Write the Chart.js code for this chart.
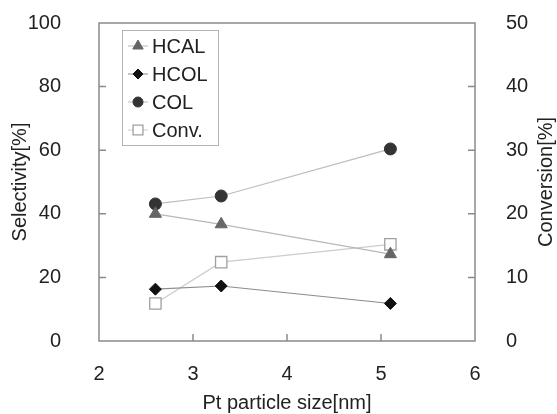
<!DOCTYPE html>
<html>
<head>
<meta charset="utf-8">
<script src="https://cdn.jsdelivr.net/npm/chart.js@4/dist/chart.umd.min.js"></script>
<style>
  html, body { margin: 0; padding: 0; background: #fff; }
  #wrap { width: 557px; height: 414px; }
</style>
</head>
<body>
<div id="wrap"><canvas id="chart" width="557" height="414"></canvas></div>
<script>
// données
const sizes = [2.6, 3.3, 5.1];           // Pt particle size [nm]
const hcal = [40.0, 36.7, 27.3];         // Selectivity [%]
const hcol = [16.3, 17.3, 11.8];
const col = [43.1, 45.6, 60.4];
const conv = [5.9, 12.4, 15.2];          // Conversion [%] (axe droit)
const labels = ["HCAL", "HCOL", "COL", "Conv."];
const selTicks = [0, 20, 40, 60, 80, 100];
const convTicks = [0, 10, 20, 30, 40, 50];
const xTicks = [2, 3, 4, 5, 6];

const FONT = "'Liberation Sans', Arial, sans-serif";

function pts(ys) {
    return sizes.map((x, i) => ({ x: x, y: ys[i] }));
}

// taille fixe des axes, sans marge automatique
function fixSize(w, h) {
    return s => {
        if (w) s.width = w;
        if (h) s.height = h;
        s.paddingTop = 0; s.paddingBottom = 0;
        s.paddingLeft = 0; s.paddingRight = 0;
    };
}

// cadre, petites graduations internes, titres et légende
const decor = {
    id: "decor",
    afterDraw(chart) {
        const ctx = chart.ctx;
        const a = chart.chartArea;
        const sx = chart.scales.x, sy = chart.scales.y, sy1 = chart.scales.y1;
        ctx.save();
        ctx.strokeStyle = "#8a8a8a";
        ctx.lineWidth = 1.5;
        ctx.strokeRect(a.left, a.top, a.right - a.left, a.bottom - a.top);

        ctx.beginPath();
        const tl = 7;
        xTicks.slice(1, -1).forEach(v => {
            const p = sx.getPixelForValue(v);
            ctx.moveTo(p, a.bottom); ctx.lineTo(p, a.bottom - tl);
        });
        selTicks.slice(1, -1).forEach(v => {
            const p = sy.getPixelForValue(v);
            ctx.moveTo(a.left, p); ctx.lineTo(a.left + tl, p);
        });
        convTicks.slice(1, -1).forEach(v => {
            const p = sy1.getPixelForValue(v);
            ctx.moveTo(a.right, p); ctx.lineTo(a.right - tl, p);
        });
        ctx.stroke();

        // titres des axes
        ctx.fillStyle = "#222";
        ctx.font = "20px " + FONT;
        ctx.textAlign = "center";
        ctx.textBaseline = "middle";
        const midY = (a.top + a.bottom) / 2;
        ctx.fillText("Pt particle size[nm]", (a.left + a.right) / 2, 403);
        ctx.save();
        ctx.translate(20, midY);
        ctx.rotate(-Math.PI / 2);
        ctx.fillText("Selectivity[%]", 0, 0);
        ctx.restore();
        ctx.save();
        ctx.translate(546, midY);
        ctx.rotate(-Math.PI / 2);
        ctx.fillText("Conversion[%]", 0, 0);
        ctx.restore();

        // légende
        const bx = 122, by = 30, bw = 96, bh = 115;
        ctx.strokeStyle = "#b5b5b5";
        ctx.lineWidth = 1;
        ctx.fillStyle = "#fff";
        ctx.fillRect(bx, by, bw, bh);
        ctx.strokeRect(bx + 0.5, by + 0.5, bw, bh);
        ctx.textAlign = "left";
        chart.data.datasets.forEach((ds, i) => {
            const y = 46 + i * 28;
            ctx.strokeStyle = ds.borderColor;
            ctx.lineWidth = 1;
            ctx.beginPath();
            ctx.moveTo(128, y); ctx.lineTo(148, y);
            ctx.stroke();
            ctx.fillStyle = ds.pointBackgroundColor;
            ctx.strokeStyle = ds.pointBorderColor;
            ctx.lineWidth = ds.pointBorderWidth;
            Chart.helpers.drawPoint(ctx, {
                pointStyle: ds.pointStyle,
                radius: ds.pointRadius - 1,
                rotation: 0,
                borderWidth: ds.pointBorderWidth
            }, 138, y);
            ctx.fillStyle = "#222";
            ctx.fillText(ds.label, 152, y + 1);
        });
        ctx.restore();
    }
};

new Chart(document.getElementById("chart"), {
    type: "line",
    data: {
        datasets: [
            {
                label: labels[0], data: pts(hcal), yAxisID: "y",
                borderColor: "#b8b8b8", borderWidth: 1.2,
                pointStyle: "triangle", pointRadius: 7,
                pointBackgroundColor: "#666", pointBorderColor: "#666", pointBorderWidth: 1
            },
            {
                label: labels[1], data: pts(hcol), yAxisID: "y",
                borderColor: "#8c8c8c", borderWidth: 1.2,
                pointStyle: "rectRot", pointRadius: 6,
                pointBackgroundColor: "#111", pointBorderColor: "#111", pointBorderWidth: 1
            },
            {
                label: labels[2], data: pts(col), yAxisID: "y",
                borderColor: "#bdbdbd", borderWidth: 1.2,
                pointStyle: "circle", pointRadius: 6,
                pointBackgroundColor: "#333", pointBorderColor: "#333", pointBorderWidth: 1
            },
            {
                label: labels[3], data: pts(conv), yAxisID: "y1",
                borderColor: "#cccccc", borderWidth: 1.2,
                pointStyle: "rect", pointRadius: 8,
                pointBackgroundColor: "#fff", pointBorderColor: "#a0a0a0", pointBorderWidth: 1.3
            }
        ]
    },
    options: {
        responsive: false,
        animation: false,
        layout: { padding: { top: 23, left: 0, right: 0, bottom: 0 } },
        plugins: {
            legend: { display: false },
            tooltip: { enabled: false }
        },
        scales: {
            x: {
                type: "linear", min: 2, max: 6,
                afterBuildTicks: s => { s.ticks = xTicks.map(v => ({ value: v })); },
                afterFit: fixSize(0, 73),
                grid: { display: false },
                border: { display: false },
                ticks: { color: "#222", font: { family: FONT, size: 20 }, padding: 13, maxRotation: 0 }
            },
            y: {
                position: "left", min: 0, max: 100,
                afterBuildTicks: s => { s.ticks = selTicks.map(v => ({ value: v })); },
                afterFit: fixSize(99, 0),
                grid: { display: false },
                border: { display: false },
                ticks: { color: "#222", font: { family: FONT, size: 20 }, padding: 30 }
            },
            y1: {
                position: "right", min: 0, max: 50,
                afterBuildTicks: s => { s.ticks = convTicks.map(v => ({ value: v })); },
                afterFit: fixSize(82, 0),
                grid: { display: false },
                border: { display: false },
                ticks: { color: "#222", font: { family: FONT, size: 20 }, padding: 23 }
            }
        }
    },
    plugins: [decor]
});
</script>
</body>
</html>
